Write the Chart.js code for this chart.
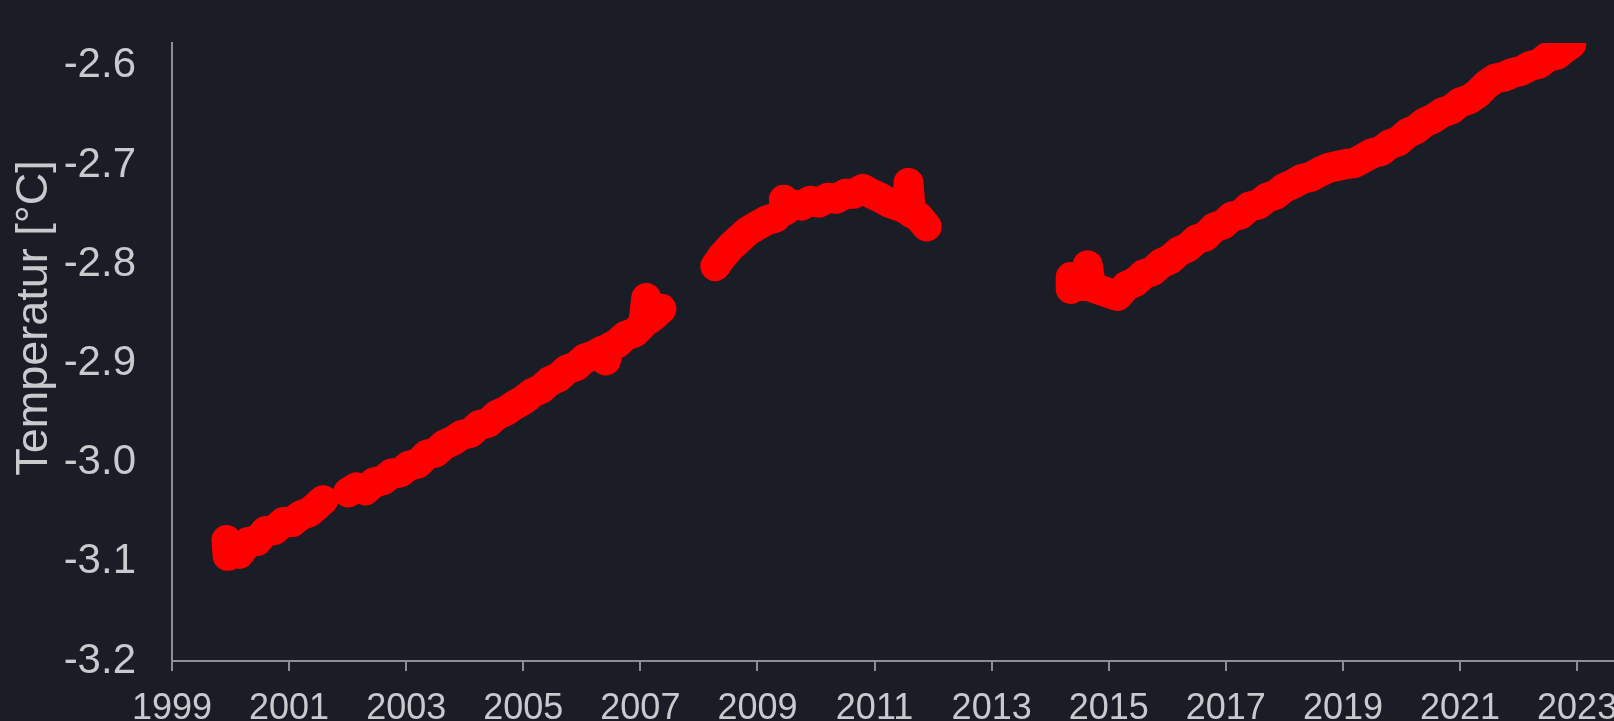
<!DOCTYPE html>
<html>
<head>
<meta charset="utf-8">
<title>Temperatur</title>
<script src="https://cdn.jsdelivr.net/npm/chart.js@4"></script>
<style>
  html, body { margin: 0; padding: 0; background: #1a1c26; }
  #chart { display: block; }
</style>
</head>
<body>
<canvas id="chart" width="1614" height="721"></canvas>
<script>
// values (decimal year, deg C); null = gap in the record
const years = [
  1999.93, 1999.95, 2000.05, 2000.15, 2000.3, 2000.45, 2000.6, 2000.75, 2000.9, 2001.05,
  2001.2, 2001.35, 2001.5, 2001.58,
  2001.8,
  2002.01, 2002.15, 2002.3, 2002.45, 2002.6, 2002.75, 2002.9, 2003.05, 2003.2, 2003.35,
  2003.5, 2003.65, 2003.8, 2003.95, 2004.1, 2004.25, 2004.4, 2004.55, 2004.7, 2004.85,
  2005.0, 2005.15, 2005.3, 2005.45, 2005.6, 2005.75, 2005.9, 2006.05, 2006.2, 2006.35,
  2006.41, 2006.47, 2006.6, 2006.75, 2006.9, 2007.05, 2007.1, 2007.14, 2007.25, 2007.36,
  2007.9,
  2008.28, 2008.4, 2008.55, 2008.7, 2008.85, 2009.0, 2009.15, 2009.31,
  2009.38,
  2009.45, 2009.47, 2009.6, 2009.75, 2009.9, 2010.05, 2010.2, 2010.35, 2010.5, 2010.65,
  2010.8, 2010.95, 2011.1, 2011.25, 2011.4, 2011.55, 2011.58, 2011.62, 2011.75, 2011.89,
  2013.0,
  2014.35, 2014.35, 2014.45, 2014.55, 2014.64, 2014.7, 2014.85, 2015.0, 2015.15,
  2015.3, 2015.45, 2015.6, 2015.75, 2015.9, 2016.05, 2016.2, 2016.35, 2016.5, 2016.65,
  2016.8, 2016.95, 2017.1, 2017.25, 2017.4, 2017.55, 2017.7, 2017.85, 2018.0, 2018.15,
  2018.3, 2018.45, 2018.6, 2018.75, 2018.9, 2019.05, 2019.2, 2019.35, 2019.5, 2019.65,
  2019.8, 2019.95, 2020.1, 2020.25, 2020.4, 2020.55, 2020.7, 2020.85, 2021.0, 2021.15,
  2021.3, 2021.45, 2021.6, 2021.75, 2021.9, 2022.05, 2022.2, 2022.35, 2022.5, 2022.65,
  2022.8, 2022.9
];
const temps = [
  -3.078, -3.094, -3.083, -3.092, -3.080, -3.079, -3.069, -3.068, -3.060, -3.060,
  -3.053, -3.050, -3.042, -3.038,
  null,
  -3.030, -3.025, -3.028, -3.020, -3.018, -3.011, -3.010, -3.003, -3.001, -2.992,
  -2.990, -2.982, -2.978, -2.972, -2.970, -2.962, -2.960, -2.952, -2.948, -2.942,
  -2.937, -2.930, -2.926, -2.918, -2.914, -2.906, -2.903, -2.895, -2.892, -2.887,
  -2.897, -2.884, -2.880, -2.872, -2.869, -2.860, -2.834, -2.856, -2.851, -2.845,
  null,
  -2.802, -2.792, -2.782, -2.774, -2.766, -2.761, -2.756, -2.753,
  null,
  -2.735, -2.746, -2.740, -2.741, -2.736, -2.738, -2.733, -2.734, -2.729, -2.729,
  -2.724, -2.729, -2.733, -2.738, -2.741, -2.745, -2.718, -2.748, -2.752, -2.762,
  null,
  -2.813, -2.825, -2.820, -2.822, -2.801, -2.823, -2.826, -2.829, -2.832,
  -2.822, -2.818, -2.810, -2.807, -2.799, -2.795, -2.787, -2.783, -2.775, -2.772,
  -2.763, -2.760, -2.752, -2.750, -2.742, -2.740, -2.733, -2.730, -2.723, -2.719,
  -2.714, -2.712, -2.707, -2.703, -2.701, -2.699, -2.698, -2.693, -2.688, -2.686,
  -2.679, -2.676, -2.668, -2.664, -2.657, -2.653, -2.647, -2.644, -2.637, -2.634,
  -2.628, -2.619, -2.613, -2.611, -2.607, -2.605, -2.600, -2.598, -2.591, -2.589,
  -2.582, -2.578
];
const yTicks = [-3.2, -3.1, -3.0, -2.9, -2.8, -2.7, -2.6];
const xTicks = [1999, 2001, 2003, 2005, 2007, 2009, 2011, 2013, 2015, 2017, 2019, 2021, 2023];

const axisColor = '#8b8e97';
const textColor = '#c9cace';
const fontFamily = '"Liberation Sans", Arial, sans-serif';

// y title sits a bit above the axis middle in the original, so draw it by hand
const yTitle = {
  id: 'yTitle',
  afterDraw(chart) {
    const ctx = chart.ctx;
    ctx.save();
    ctx.translate(35, 318);
    ctx.rotate(-Math.PI / 2);
    ctx.font = '45px ' + fontFamily;
    ctx.fillStyle = textColor;
    ctx.textAlign = 'center';
    ctx.textBaseline = 'middle';
    ctx.fillText('Temperatur [°C]', 0, 0);
    ctx.restore();
  }
};

new Chart(document.getElementById('chart'), {
  type: 'line',
  data: {
    datasets: [{
      data: years.map((x, i) => ({ x: x, y: temps[i] })),
      borderColor: '#ff0000',
      backgroundColor: '#ff0000',
      borderWidth: 30,
      borderCapStyle: 'round',
      borderJoinStyle: 'round',
      pointRadius: 0,
      tension: 0,
      spanGaps: false
    }]
  },
  options: {
    responsive: false,
    animation: false,
    layout: { padding: { top: 43, right: 0, bottom: 0, left: 0 } },
    plugins: {
      legend: { display: false },
      tooltip: { enabled: false }
    },
    scales: {
      x: {
        type: 'linear',
        min: 1999,
        max: 2023.63,
        afterBuildTicks: (scale) => { scale.ticks = xTicks.map(v => ({ value: v })); },
        afterFit: (scale) => {
          scale.height = 60;
          scale.paddingLeft = 0;
          scale.paddingRight = 0;
        },
        ticks: {
          color: textColor,
          font: { family: fontFamily, size: 36 },
          padding: 16,
          maxRotation: 0,
          autoSkip: false,
          callback: (v) => String(v)
        },
        grid: { drawOnChartArea: false, drawTicks: true, tickLength: 10, color: axisColor, lineWidth: 2 },
        border: { display: true, color: axisColor, width: 2 }
      },
      y: {
        min: -3.2,
        max: -2.577,
        afterBuildTicks: (scale) => { scale.ticks = yTicks.map(v => ({ value: v })); },
        afterFit: (scale) => {
          scale.width = 172;
          scale.paddingTop = 0;
          scale.paddingBottom = 0;
        },
        ticks: {
          color: textColor,
          font: { family: fontFamily, size: 42 },
          padding: 36,
          callback: (v) => v.toFixed(1)
        },
        grid: { display: false, drawTicks: false },
        border: { display: true, color: axisColor, width: 2 }
      }
    }
  },
  plugins: [yTitle]
});
</script>
</body>
</html>
